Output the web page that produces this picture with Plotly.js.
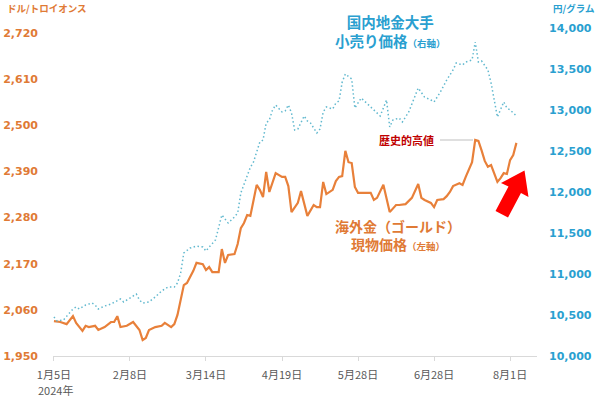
<!DOCTYPE html>
<html>
<head>
<meta charset="utf-8">
<script src="https://cdn.plot.ly/plotly-3.0.1.min.js"></script>
<style>html,body{margin:0;padding:0;background:#fff;}#chart{width:600px;height:397px;}</style>
</head>
<body>
<div id="chart"></div>
<script>
// Trading-day index (0 = 2024年1月5日) and spot gold price, USD / troy ounce (left axis)
const goldDay = [0,2,4,6,7,9,10,11,13,14,16,18,19,20,21,23,25,26,27,28,29,30,32,34,35,37,38,39,41,42,44,45,47,48,49,50,52,53,54,55,57,58,59,60,61,62,64,65,66,67,68,70,72,73,74,75,77,78,80,82,83,84,85,86,88,89,90,91,92,93,94,95,96,98,100,101,102,104,105,106,108,109,111,112,113,115,116,117,119,120,121,123,124,125,126,128,129,130,132,133,134,135,136,137,138,140,141,142,143,144,145,146];
const goldUsd = [2033,2031,2026,2045,2029,2010,2022,2019,2022,2012,2019,2031,2031,2045,2019,2022,2031,2022,2012,1988,1993,2012,2019,2022,2029,2019,2026,2048,2119,2124,2153,2172,2169,2155,2162,2150,2150,2205,2172,2191,2193,2217,2255,2267,2286,2284,2358,2346,2329,2389,2341,2386,2377,2377,2355,2293,2315,2343,2284,2310,2305,2305,2365,2336,2346,2367,2377,2379,2439,2412,2410,2353,2339,2339,2339,2322,2327,2358,2327,2293,2310,2310,2312,2320,2327,2360,2327,2322,2315,2305,2322,2324,2331,2341,2355,2362,2358,2377,2412,2465,2463,2440,2415,2401,2405,2365,2374,2386,2384,2417,2429,2458];

// Trading-day index and domestic retail gold price, JPY / gram (right axis)
const retailDay = [0,1,3,6,7,8,10,12,13,14,16,18,21,22,24,26,27,28,30,32,34,36,38,39,40,41,43,45,47,48,49,50,51,53,55,57,58,59,61,62,63,65,66,67,68,69,70,72,73,74,75,76,77,78,79,80,81,83,84,85,86,88,89,90,91,92,94,95,97,99,101,103,105,106,107,109,110,112,115,117,119,120,122,124,126,127,129,130,132,133,134,135,137,138,140,142,143,144,146];
const retailJpy = [10476,10427,10439,10573,10598,10573,10622,10646,10622,10573,10610,10634,10695,10659,10707,10756,10683,10646,10659,10720,10793,10841,10841,10890,11012,11256,11317,11341,11329,11280,11329,11378,11415,11720,11622,11695,11744,11988,12183,12300,12366,12610,12634,12841,12878,13000,13061,12976,12988,13061,12963,12756,12768,12854,12927,12866,12841,12720,12768,12976,13037,13012,13085,13110,13341,13439,13378,13024,13146,13073,13000,12927,13122,12793,12878,12902,12854,12976,13268,13158,13122,13098,13219,13366,13488,13573,13549,13585,13610,13829,13585,13598,13488,13329,12915,13098,13024,13000,12927];

const tickDays = [0,24,48,72,96,120,144];
const tickLabels = ["1月5日","2月8日","3月14日","4月19日","5月28日","6月28日","8月1日"];
const yearLabel = "2024年";
const leftTicks = [1950,2060,2170,2280,2390,2500,2610,2720];
const rightTicks = [10000,10500,11000,11500,12000,12500,13000,13500,14000];

const ORANGE = "#e8803a";
const ORANGE_TXT = "#e07a35";
const BLUE_LINE = "#62b9cf";
const BLUE_TXT = "#2a9fd0";
const JP = "Noto Sans CJK JP, sans-serif";
const NUM = "DejaVu Sans, sans-serif";

// plot area in pixels
const PL = 53, PR = 537, PT = 28, PB = 356;
const px = x => (x - PL) / (PR - PL);
const py = y => (PB - y) / (PB - PT);

// red block arrow (decoration), defined in pixels
const arrowPts = [[508,217.5],[521,193],[528.5,197],[524.5,170.5],[501,183],[508.5,186.5],[495.5,211]];
const arrowPath = arrowPts.map((p,i)=>(i?"L":"M")+px(p[0]).toFixed(4)+","+py(p[1]).toFixed(4)).join(" ")+" Z";

const traces = [
  {x: retailDay, y: retailJpy, yaxis: "y2", type: "scatter", mode: "lines",
   line: {color: BLUE_LINE, width: 1.5, dash: "1.5px,2.5px"}, hoverinfo: "skip"},
  {x: goldDay, y: goldUsd, yaxis: "y", type: "scatter", mode: "lines",
   line: {color: ORANGE, width: 2.2}, hoverinfo: "skip"}
];

const layout = {
  width: 600, height: 397,
  margin: {l: PL, r: 600 - PR, t: PT, b: 397 - PB, pad: 0},
  paper_bgcolor: "#ffffff", plot_bgcolor: "#ffffff",
  showlegend: false,
  xaxis: {
    range: [-0.3, 152.5], tickvals: tickDays, ticktext: tickLabels,
    showgrid: false, zeroline: false, showline: true, linecolor: "#d9d9d9", linewidth: 1,
    ticks: "outside", ticklen: 4, tickcolor: "#d9d9d9",
    ticklabelstandoff: 5,
    tickfont: {family: JP, size: 11, color: "#595959"}
  },
  yaxis: {
    range: [1950, 1950 + (PB - PT) * 770 / 323], tickvals: leftTicks, tickformat: ",",
    showgrid: false, zeroline: false, showline: false, ticks: "",
    ticklabelstandoff: 14,
    tickfont: {family: NUM, size: 11, color: ORANGE_TXT, weight: "bold"}
  },
  yaxis2: {
    overlaying: "y", side: "right", range: [10000, 14000], tickvals: rightTicks, tickformat: ",",
    showgrid: false, zeroline: false, showline: false, ticks: "",
    ticklabelstandoff: 11,
    tickfont: {family: NUM, size: 11, color: BLUE_TXT, weight: "bold"}
  },
  shapes: [
    {type: "line", xref: "paper", yref: "paper", x0: px(440), x1: px(473), y0: py(140), y1: py(140),
     line: {color: "#bfbfbf", width: 1}},
    {type: "path", xref: "paper", yref: "paper", path: arrowPath,
     fillcolor: "#ff0000", line: {color: "#ff0000", width: 0}}
  ],
  annotations: [
    {xref: "paper", yref: "paper", x: px(55), y: py(389.5), xanchor: "center", yanchor: "middle", showarrow: false,
     text: yearLabel, font: {family: JP, size: 11, color: "#595959"}},
    {xref: "paper", yref: "paper", x: px(5), y: py(8), xanchor: "left", yanchor: "middle", showarrow: false,
     text: "ドル/トロイオンス", font: {family: JP, size: 9.5, color: ORANGE_TXT, weight: "bold"}},
    {xref: "paper", yref: "paper", x: px(551), y: py(8), xanchor: "left", yanchor: "middle", showarrow: false,
     text: "円/グラム", font: {family: JP, size: 9.5, color: BLUE_TXT, weight: "bold"}},
    {xref: "paper", yref: "paper", x: px(390), y: py(31), xanchor: "center", yanchor: "middle", showarrow: false, align: "center",
     text: "国内地金大手<br>小売り価格<span style=\"font-size:9.5px\">（右軸）</span>",
     font: {family: JP, size: 14.5, color: BLUE_TXT, weight: "bold"}},
    {xref: "paper", yref: "paper", x: px(398), y: py(235), xanchor: "center", yanchor: "middle", showarrow: false, align: "center",
     text: "海外金（ゴールド）<br>現物価格<span style=\"font-size:9.5px\">（左軸）</span>",
     font: {family: JP, size: 14, color: ORANGE_TXT, weight: "bold"}},
    {xref: "paper", yref: "paper", x: px(406), y: py(140), xanchor: "center", yanchor: "middle", showarrow: false,
     text: "歴史的高値", font: {family: JP, size: 11, color: "#c00000", weight: "bold"}}
  ]
};

Plotly.newPlot("chart", traces, layout, {staticPlot: true, displayModeBar: false});
</script>
</body>
</html>
